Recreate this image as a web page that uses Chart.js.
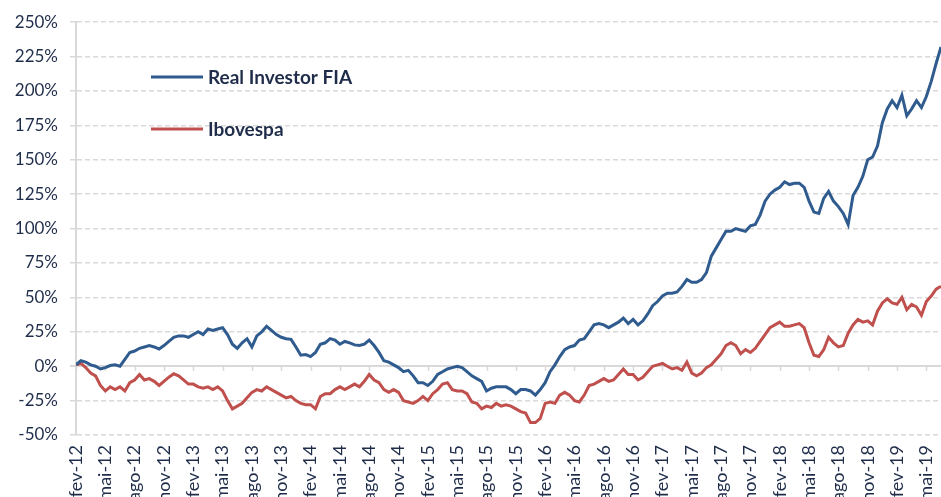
<!DOCTYPE html>
<html>
<head>
<meta charset="utf-8">
<script src="https://cdn.jsdelivr.net/npm/chart.js@4"></script>
<style>
  html, body { margin: 0; padding: 0; background: #fff; overflow: hidden; }
  #wrap { width: 941px; height: 497px; position: relative; }
</style>
</head>
<body>
<div id="wrap"><canvas id="chart"></canvas></div>
<script>
// Rentabilidade acumulada (%) - Real Investor FIA x Ibovespa
// uma leitura a cada meio mes, de fev-12 ate meados de jul-19
const realInvestor = [
    1, 4, 3, 1, 0, -2, -1, 0.5, 1, 0,
    5, 10, 11, 13, 14, 15, 14, 12.5, 15, 18,
    21, 22, 22, 21, 23, 25, 23, 27, 26, 27,
    28, 23, 16, 13, 17, 20, 14, 22, 25, 29,
    26, 23, 21, 20, 19.5, 14, 8, 8.5, 7, 10,
    16, 17, 20, 19, 16, 18, 17, 15.5, 15, 16,
    19, 15, 10, 4, 3, 1, -1, -4, -3, -7,
    -12, -12, -14, -11, -6, -4, -2, -1, 0, -1,
    -4, -7, -9, -11, -18, -16, -15, -15, -15, -17,
    -20, -17, -17, -18, -21, -17, -12, -4, 1, 7,
    12, 14, 15, 19, 20, 25, 30, 31, 30, 28,
    30, 32, 35, 31, 34, 30, 33, 38, 44, 47,
    51, 53, 53, 54, 58, 63, 61, 61, 63, 68,
    80, 86, 92, 98, 98, 100, 99, 98, 102, 103,
    110, 120, 125, 128, 130, 134, 132, 133, 133, 130,
    120, 112, 111, 122, 127, 120, 116, 111, 103, 124,
    130, 138, 150, 152, 160, 177, 187, 193, 188, 197,
    182, 187, 193, 188, 196, 207, 220, 232
];
const ibovespa = [
    1, 2, -1, -5, -7, -14, -18, -15, -17, -15,
    -18, -12, -10, -6, -10, -9, -11, -14, -11, -8,
    -5.5, -7, -10, -13, -13, -15, -16, -15, -17, -15,
    -18, -25, -31, -29, -27, -23, -19, -17, -18, -15,
    -17, -19, -21, -23, -22, -25, -27, -28, -28, -31,
    -22, -20, -20, -17, -15, -17, -15, -13, -15, -11,
    -6, -10, -12, -17, -19, -17, -19, -25, -26, -27,
    -25, -22, -25, -20, -17, -13, -12, -17, -18, -18,
    -20, -26, -27, -31, -29, -30, -27, -29, -28, -29,
    -31, -33, -34, -41, -41, -38, -27, -26, -27, -21,
    -19, -21, -25, -26, -21, -14, -13, -11, -9, -11,
    -10, -6, -2, -6, -6, -10, -8, -4, 0, 1,
    2, 0, -2, -1, -3, 3, -5, -7, -5, -1,
    1, 5, 9, 15, 17, 15, 9, 12, 10, 13,
    18, 23, 28, 30, 32, 29, 29, 30, 31, 28,
    17, 8, 7, 12, 21, 17, 14, 15, 24, 30,
    34, 32, 33, 30, 40, 46, 49, 46, 45, 50,
    41, 45, 43, 37, 47, 51, 56, 58
];
const tickLabels = [
    'fev-12', 'mai-12', 'ago-12', 'nov-12', 'fev-13', 'mai-13', 'ago-13', 'nov-13',
    'fev-14', 'mai-14', 'ago-14', 'nov-14', 'fev-15', 'mai-15', 'ago-15', 'nov-15',
    'fev-16', 'mai-16', 'ago-16', 'nov-16', 'fev-17', 'mai-17', 'ago-17', 'nov-17',
    'fev-18', 'mai-18', 'ago-18', 'nov-18', 'fev-19', 'mai-19'
];
// meses desde fev-12
const months = realInvestor.map((_, i) => i / 2);

const textColor = '#1F2D4A';
const gridColor = '#D9D9D9';

// tracinhos do eixo x sobre a linha do zero
const zeroAxis = {
    id: 'zeroAxis',
    beforeDatasetsDraw(chart) {
        const { ctx, scales: { x, y } } = chart;
        const y0 = Math.round(y.getPixelForValue(0));
        ctx.save();
        ctx.strokeStyle = gridColor;
        ctx.lineWidth = 1.5;
        ctx.beginPath();
        x.ticks.forEach(t => {
            const px = Math.round(x.getPixelForValue(t.value)) + 0.5;
            ctx.moveTo(px, y0);
            ctx.lineTo(px, y0 + 5);
        });
        ctx.stroke();
        ctx.restore();
    }
};

// legenda dentro da area do grafico
const innerLegend = {
    id: 'innerLegend',
    afterDraw(chart) {
        const ctx = chart.ctx;
        const rows = [77, 129];
        chart.data.datasets.forEach((ds, i) => {
            const yy = rows[i];
            ctx.save();
            ctx.strokeStyle = ds.borderColor;
            ctx.lineWidth = 3;
            ctx.beginPath();
            ctx.moveTo(151, yy);
            ctx.lineTo(203, yy);
            ctx.stroke();
            ctx.fillStyle = textColor;
            ctx.font = 'bold 19px Lato';
            ctx.textBaseline = 'middle';
            ctx.fillText(ds.label, 208, yy + 1);
            ctx.restore();
        });
    }
};

const ctx = document.getElementById('chart').getContext('2d');
const chart = new Chart(ctx, {
    type: 'line',
    data: {
        labels: months,
        datasets: [{
            label: 'Real Investor FIA',
            data: realInvestor,
            borderColor: '#2F5B8E',
            borderWidth: 3,
            pointRadius: 0,
            tension: 0
        }, {
            label: 'Ibovespa',
            data: ibovespa,
            borderColor: '#C0504D',
            borderWidth: 3,
            pointRadius: 0,
            tension: 0
        }]
    },
    options: {
        responsive: true,
        maintainAspectRatio: false,
        animation: false,
        layout: { padding: { top: 22, right: 0, bottom: 0, left: 0 } },
        plugins: {
            legend: { display: false },
            tooltip: { enabled: false }
        },
        scales: {
            x: {
                type: 'linear',
                min: 0,
                max: 88.5,
                grid: { drawOnChartArea: false, drawTicks: false },
                border: { display: false },
                ticks: {
                    stepSize: 3,
                    includeBounds: false,
                    autoSkip: false,
                    minRotation: 90,
                    maxRotation: 90,
                    padding: 10,
                    color: textColor,
                    font: { family: 'Lato', size: 18 },
                    callback: v => tickLabels[v / 3] || ''
                },
                afterFit: s => {
                    s.height = 62;
                    s.paddingLeft = 0;
                    s.paddingRight = 0;
                }
            },
            y: {
                min: -50,
                max: 250,
                grid: {
                    color: gridColor,
                    lineWidth: c => (c.tick && c.tick.value === 0 ? 2 : 1.5),
                    tickLength: 6
                },
                border: {
                    color: gridColor,
                    width: 2,
                    dash: c => (c.tick && c.tick.value === 0 ? [] : [5, 3])
                },
                ticks: {
                    stepSize: 25,
                    padding: 12,
                    color: textColor,
                    font: { family: 'Lato', size: 17 },
                    callback: v => v + '%'
                },
                afterFit: s => { s.width = 76; }
            }
        }
    },
    plugins: [zeroAxis, innerLegend]
});
</script>
</body>
</html>
